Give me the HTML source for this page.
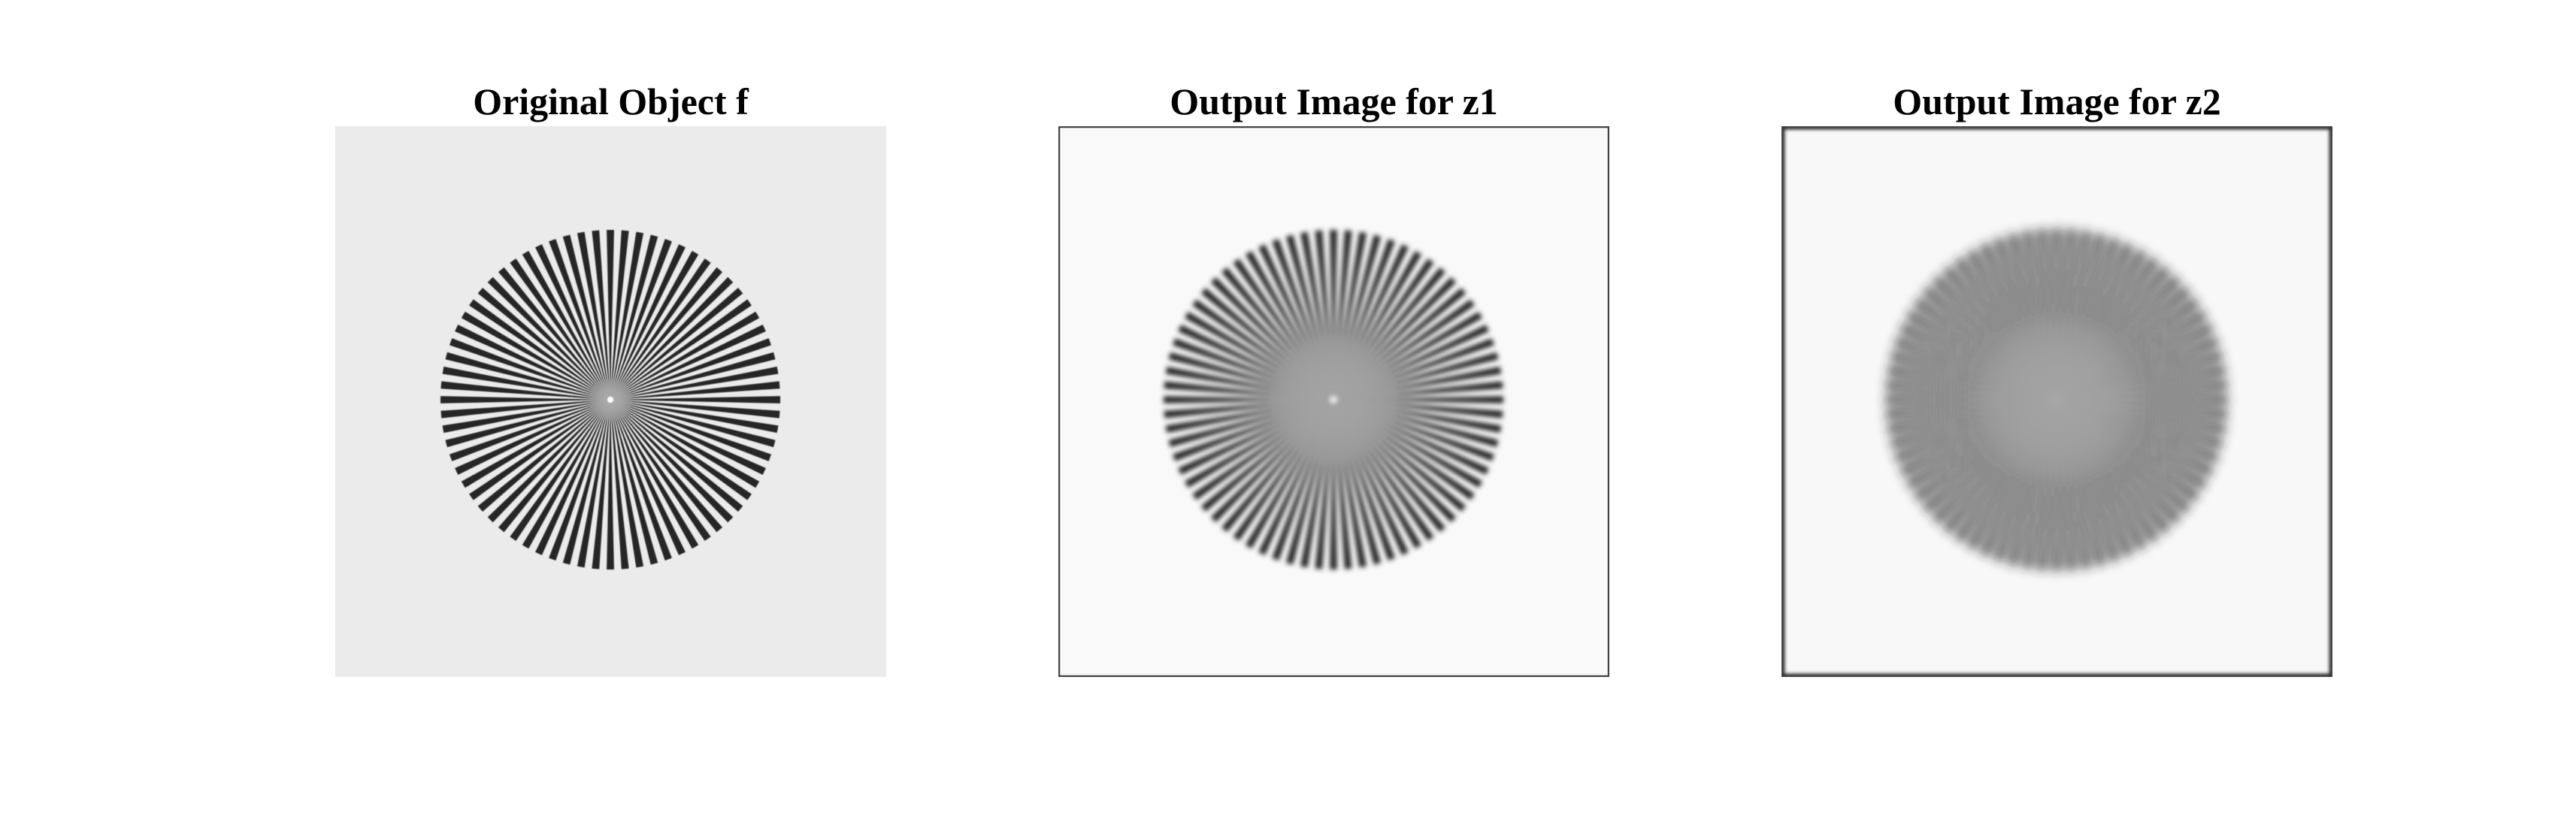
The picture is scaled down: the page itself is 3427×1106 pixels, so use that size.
<!DOCTYPE html>
<html><head><meta charset="utf-8"><style>
html,body{margin:0;padding:0;background:#fff;}
svg{display:block;}
text{font-family:"Liberation Serif",serif;font-weight:bold;}
</style></head><body>
<svg id="fig" width="3427" height="1106" viewBox="0 0 3427 1106" xmlns="http://www.w3.org/2000/svg">
<defs>
<filter id="blur1" x="-10%" y="-10%" width="120%" height="120%"><feGaussianBlur stdDeviation="0.6"/></filter>
<filter id="blur2" x="-10%" y="-10%" width="120%" height="120%"><feGaussianBlur stdDeviation="3.2"/></filter>
<filter id="blur3" x="-10%" y="-10%" width="120%" height="120%"><feGaussianBlur stdDeviation="7"/></filter>
<filter id="edge3" x="-5%" y="-5%" width="110%" height="110%"><feGaussianBlur stdDeviation="2"/></filter>
<radialGradient id="hubGrad">
<stop offset="0" stop-color="#b4b4b4" stop-opacity="1"/>
<stop offset="0.5" stop-color="#b0b0b0" stop-opacity="0.7"/>
<stop offset="1" stop-color="#aaaaaa" stop-opacity="0"/>
</radialGradient>
</defs>
</svg>
<script>
const panelTitles = ["Original Object f", "Output Image for z1", "Output Image for z2"];
const spokeCount = 72;
const starRadius = [226, 226, 228];
const blurLevel = [1, 2, 3];
const bgShade = ["#ebebeb", "#f9f9f9", "#f8f8f8"];
const hubRadius = [30, 90, 110];

const NS = "http://www.w3.org/2000/svg";
const svg = document.getElementById('fig');
const panelX = i => 446 + i * 962;
const panelY = 168, panelW = 733, panelH = 733;
const cx = 366, cy = 364;

function mk(tag, attrs, parent){
  const e = document.createElementNS(NS, tag);
  for (const k in attrs) e.setAttribute(k, attrs[k]);
  parent.appendChild(e);
  return e;
}

panelTitles.forEach((title, i) => {
  const g = mk('g', {transform: `translate(${panelX(i)},${panelY})`}, svg);
  
  

  const t = mk('text', {x: panelW / 2, y: -16, 'text-anchor': 'middle', 'font-size': 50, fill: '#000'}, g);
  t.textContent = title;
  
  

  const cp = mk('clipPath', {id: 'clip' + i}, svg.querySelector('defs'));
  mk('rect', {x: 0, y: 0, width: panelW, height: panelH}, cp);

  const img = mk('g', {'clip-path': `url(#clip${i})`}, g);
  
  

  const bg = mk('rect', {x: 0, y: 0, width: panelW, height: panelH, fill: bgShade[i]}, img);
  
  

  const star = mk('g', {filter: `url(#blur${blurLevel[i]})`}, img);
  
  
  const R = starRadius[i];
  const step = 2 * Math.PI / spokeCount;
  let d = '';
  for (let k = 0; k < spokeCount; k++) {
    const a0 = k * step - step / 4, a1 = a0 + step / 2;
    const x0 = cx + R * Math.cos(a0), y0 = cy + R * Math.sin(a0);
    const x1 = cx + R * Math.cos(a1), y1 = cy + R * Math.sin(a1);
    d += `M${cx},${cy}L${x0.toFixed(2)},${y0.toFixed(2)}A${R},${R} 0 0 1 ${x1.toFixed(2)},${y1.toFixed(2)}Z`;
  }
  const p = mk('path', {d: d, fill: '#262626'}, star);
  
  
  const hub = mk('circle', {cx: cx, cy: cy, r: hubRadius[i], fill: 'url(#hubGrad)', opacity: i === 0 ? 0.9 : 0.55}, star);
  
  
  const dot = mk('circle', {cx: cx, cy: cy, r: 4, fill: '#ffffff', opacity: i === 2 ? 0.25 : 1}, star);
  
  

  if (i > 0) {
    const b = mk('rect', {x: 1, y: 1, width: panelW - 2, height: panelH - 2, fill: 'none',
      stroke: i === 1 ? '#444' : '#333', 'stroke-width': i === 1 ? 2.5 : 7,
      filter: i === 2 ? 'url(#edge3)' : 'none'}, img);
    
    
  }
});
</script>
</body></html>
